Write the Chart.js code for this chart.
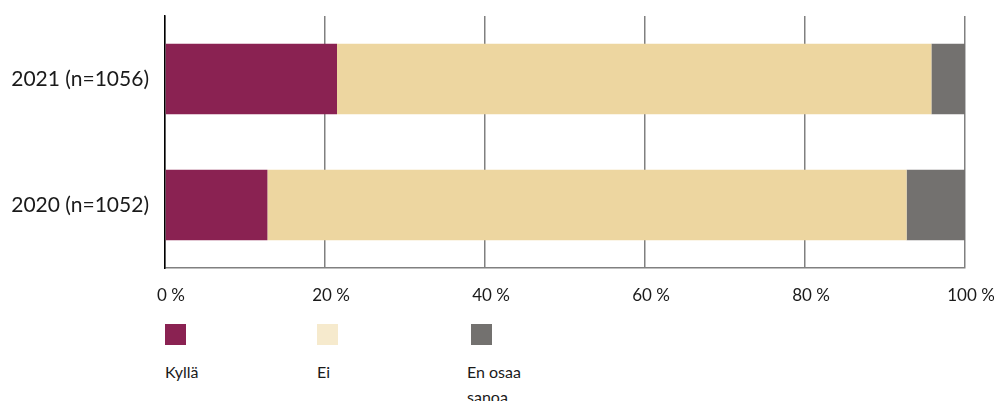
<!DOCTYPE html>
<html>
<head>
<meta charset="utf-8">
<script src="https://cdn.jsdelivr.net/npm/chart.js@4"></script>
<style>
  body { margin: 0; background: #fff; font-family: Lato, sans-serif; }
  #wrap { position: relative; width: 994px; height: 401px; overflow: hidden; }
  #chartBox { position: absolute; left: 0; top: 0; width: 994px; height: 310px; }
  .leg { position: absolute; top: 324px; width: 70px; font-size: 16px; color: #1a1a1a; line-height: 25px; }
  .leg .sw { width: 21px; height: 21px; margin-bottom: 14px; }
</style>
</head>
<body>
<div id="wrap">
  <div id="chartBox"><canvas id="myChart"></canvas></div>
  <div id="legend"></div>
</div>
<script>
const labels = ["2021 (n=1056)", "2020 (n=1052)"]

const seriesNames = ["Kyllä", "Ei", "En osaa sanoa"]
const kylla = [21.5, 12.8]
const ei = [74.3, 79.9]
const enOsaa = [4.2, 7.3]

const barColors = ['#8a2252', '#edd6a0', '#73716f']
const legendColors = ['#8a2252', '#f6eacd', '#73716f']
const legendX = [165, 317, 467]

const data = {
    labels: labels,
    datasets: [
        { label: seriesNames[0], data: kylla, backgroundColor: barColors[0] },
        { label: seriesNames[1], data: ei, backgroundColor: barColors[1] },
        { label: seriesNames[2], data: enOsaa, backgroundColor: barColors[2] }
    ]
}

const config = {
    type: 'bar',
    data: data,
    options: {
        indexAxis: 'y',
        responsive: true,
        maintainAspectRatio: false,
        animation: false,
        barPercentage: 0.56,
        categoryPercentage: 1,
        layout: { padding: { top: 16, right: 29, left: 0, bottom: 0 } },
        plugins: { legend: { display: false }, tooltip: { enabled: false } },
        scales: {
            x: {
                stacked: true,
                min: 0,
                max: 100,
                ticks: {
                    stepSize: 20,
                    padding: 17,
                    labelOffset: 6,
                    color: '#1a1a1a',
                    font: { family: 'Lato', size: 17 },
                    callback: v => v + ' %'
                },
                grid: { color: '#808080', lineWidth: 1.5, drawTicks: false },
                border: { display: true, color: '#808080', width: 1.5 },
                afterFit: s => { s.height = 42; s.paddingLeft = 0; s.paddingRight = 0 }
            },
            y: {
                stacked: true,
                ticks: {
                    padding: 16,
                    color: '#1a1a1a',
                    font: { family: 'Lato', size: 21 }
                },
                grid: { display: false, drawTicks: false },
                border: { display: true, color: '#000', width: 1.5 },
                afterFit: s => { s.width = 165; s.paddingTop = 0; s.paddingBottom = 0 }
            }
        }
    }
}

const myChart = new Chart(document.getElementById("myChart"), config)

// legend below the chart
const legend = document.getElementById("legend")
seriesNames.forEach((name, i) => {
    const d = document.createElement('div')
    d.className = 'leg'
    d.style.left = legendX[i] + 'px'
    const sw = document.createElement('div')
    sw.className = 'sw'
    sw.style.background = legendColors[i]
    if (i == 2) sw.style.marginLeft = '4px'
    d.appendChild(sw)
    d.appendChild(document.createTextNode(name))
    legend.appendChild(d)
})
</script>
</body>
</html>
